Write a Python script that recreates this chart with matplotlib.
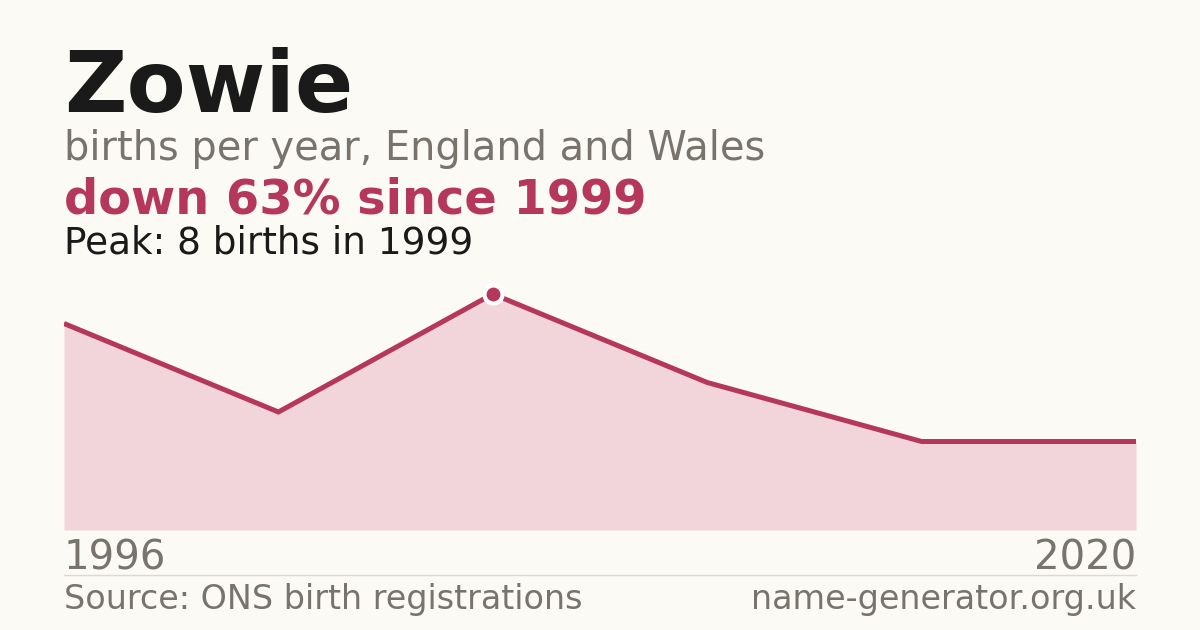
import matplotlib
matplotlib.use("Agg")
import matplotlib.pyplot as plt

# births per year (points evenly spaced along the x axis)
births = [7, 4, 8, 5, 3, 3]
first_year = "1996"
last_year = "2020"
peak_idx = 2

bg = "#fbfaf5"
red = "#b5385a"
fill = "#f2d5db"
grey = "#78746c"
ink = "#1a1a1a"

W, H = 1200, 630
fig = plt.figure(figsize=(12, 6.3), dpi=100, facecolor=bg)

def fx(px):
    return px / W

def fy(py):
    return 1 - py / H

# plot area: x 64..1136, baseline at y=530
ymax = 9
unit = 29.5
top = 530 - ymax * unit
ax = fig.add_axes([fx(64), fy(530), fx(1136 - 64), (530 - top) / H])
ax.set_facecolor("none")
x = list(range(len(births)))
ax.fill_between(x, births, 0, color=fill, lw=0)
ax.plot(x, births, color=red, lw=3.6, solid_joinstyle="miter", solid_capstyle="butt")
ax.plot([peak_idx], [births[peak_idx]], "o", ms=13, color=red,
        mec="white", mew=3, clip_on=False, zorder=5)
ax.set_xlim(0, len(births) - 1)
ax.set_ylim(0, ymax)
ax.axis("off")

# headings
fig.text(fx(64), fy(112), "Zowie", fontsize=62, fontweight="bold", color=ink, va="baseline")
fig.text(fx(64), fy(160), "births per year, England and Wales", fontsize=28.7, color=grey, va="baseline")
peak = births[peak_idx]
drop = int((peak - births[-1]) / peak * 100 + 0.5)
fig.text(fx(64), fy(214), f"down {drop}% since 1999", fontsize=34.5, fontweight="bold",
         color=red, va="baseline")
fig.text(fx(64), fy(253), f"Peak: {peak} births in 1999", fontsize=26.9, color=ink, va="baseline")

# axis year labels
fig.text(fx(64), fy(570), first_year, fontsize=29, color=grey, va="baseline")
fig.text(fx(1136), fy(570), last_year, fontsize=29, color=grey, va="baseline", ha="right")

# separator and footer
fig.add_artist(plt.Line2D([fx(64), fx(1136)], [fy(574.5), fy(574.5)], color="#dcd9d2", lw=1))
fig.text(fx(64), fy(609), "Source: ONS birth registrations", fontsize=24, color=grey, va="baseline")
fig.text(fx(1136), fy(609), "name-generator.org.uk", fontsize=24, color=grey,
         va="baseline", ha="right")

fig.savefig("out.png", dpi=100, facecolor=bg)
